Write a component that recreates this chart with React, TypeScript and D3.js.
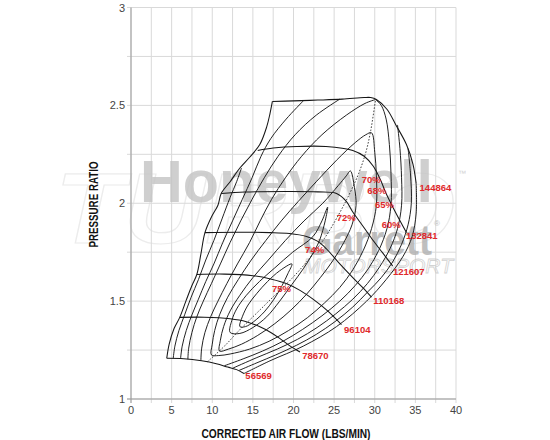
import React from 'react';
import * as d3 from 'd3';

type P = [number, number];

// ---------- axes ----------
const xTicks = [0, 5, 10, 15, 20, 25, 30, 35, 40];
const yTicks = [1, 1.5, 2, 2.5, 3];
const xGrid = [0, 2.5, 5, 7.5, 10, 12.5, 15, 17.5, 20, 22.5, 25, 27.5, 30, 32.5, 35, 37.5, 40];
const yGrid = [1, 1.25, 1.5, 1.75, 2, 2.25, 2.5, 2.75, 3];

// ---------- surge line ----------
const surgeLine: P[] = [
  [4.4, 1.208], [4.7, 1.28], [5.3, 1.36], [6.0, 1.417], [6.8, 1.505], [7.5, 1.58], [8.1, 1.636],
  [8.6, 1.74], [9.1, 1.85], [9.9, 1.93], [10.7, 1.99], [11.1, 2.05], [12.2, 2.11], [13.4, 2.18],
  [14.6, 2.235], [15.85, 2.3], [16.7, 2.39], [17.1, 2.457], [17.4, 2.52],
];

// ---------- speed lines (rpm) ----------
const speed56569: P[] = [[4.4, 1.208], [6.5, 1.206], [8.7, 1.195], [10.5, 1.18], [11.9, 1.163], [13.0, 1.15], [13.9, 1.13]];
const speed78670: P[] = [[6.0, 1.417], [9.0, 1.418], [12.2, 1.41], [14.2, 1.395], [15.8, 1.37], [17.2, 1.34], [18.3, 1.31], [19.6, 1.27], [20.8, 1.24]];
const speed96104: P[] = [[8.1, 1.636], [11.5, 1.638], [15.0, 1.63], [17.3, 1.612], [19.1, 1.59], [20.8, 1.555], [22.4, 1.51], [24.2, 1.45], [25.9, 1.38]];
const speed110168: P[] = [[9.1, 1.85], [13.0, 1.852], [17.1, 1.85], [19.5, 1.845], [21.6, 1.83], [23.0, 1.805], [24.1, 1.765], [25.7, 1.69], [27.3, 1.62], [28.5, 1.57], [29.6, 1.52]];
const speed121607: P[] = [[11.1, 2.05], [14.0, 2.057], [19.1, 2.06], [23.0, 2.058], [25.3, 2.05], [26.5, 2.01], [27.3, 1.955], [28.6, 1.88], [29.8, 1.81], [31.0, 1.745], [32.2, 1.68]];
const speed132841: P[] = [[15.6, 2.27], [17.5, 2.282], [20.4, 2.29], [24.0, 2.29], [27.3, 2.27], [28.7, 2.24], [29.8, 2.19], [30.7, 2.12], [31.4, 2.05], [32.6, 1.95], [33.9, 1.85]];
const speed144864: P[] = [[17.4, 2.52], [20.0, 2.523], [23.0, 2.527], [26.0, 2.532], [28.7, 2.54], [29.5, 2.54], [30.2, 2.53], [31.5, 2.48], [32.6, 2.4], [33.9, 2.3], [34.7, 2.2], [35.1, 2.1]];
const speedNames = ['56569', '78670', '96104', '110168', '121607', '132841', '144864'];
const speedLabelPos: P[] = [[15.7, 1.122], [22.7, 1.224], [27.85, 1.356], [31.73, 1.505], [34.19, 1.65], [35.79, 1.833], [37.47, 2.083]];

// ---------- efficiency islands ----------
const eff75: P[] = [
  [13.4, 1.37], [13.7, 1.42], [14.4, 1.48], [15.5, 1.54], [16.8, 1.6], [18.3, 1.655], [19.8, 1.69],
  [19.3, 1.64], [18.6, 1.58], [17.6, 1.51], [16.4, 1.445], [15.1, 1.395], [14.1, 1.37],
];
const eff74: P[] = [
  [12.2, 1.34], [12.4, 1.4], [13.0, 1.46], [14.2, 1.53], [15.8, 1.6], [17.7, 1.67], [19.9, 1.75], [22.4, 1.83], [23.5, 1.91], [24.2, 1.98],
  [23.9, 1.91], [23.2, 1.81], [22.4, 1.745], [21.2, 1.665], [19.8, 1.585], [18.3, 1.5], [16.7, 1.42], [15.0, 1.365], [13.4, 1.335],
];
const eff72: P[] = [
  [10.9, 1.245], [11.0, 1.3], [11.4, 1.37], [12.2, 1.45], [13.4, 1.53], [15.0, 1.62], [16.9, 1.71], [19.0, 1.81], [21.3, 1.91], [23.6, 2.0], [25.5, 2.09], [26.5, 2.14], [27.0, 2.165],
  [27.5, 2.08], [27.7, 1.99], [27.2, 1.89], [26.2, 1.8], [24.9, 1.71], [23.3, 1.62], [21.6, 1.535], [19.7, 1.455], [17.7, 1.385], [15.6, 1.325], [13.6, 1.28], [12.0, 1.255],
];
const eff70: P[] = [
  [9.9, 1.225], [10.0, 1.28], [10.3, 1.35], [10.9, 1.43], [11.9, 1.52], [13.2, 1.61], [14.8, 1.71], [16.6, 1.81], [18.5, 1.91], [20.6, 2.01], [22.8, 2.11], [25.3, 2.22], [27.6, 2.31], [28.9, 2.35], [29.6, 2.36],
  [30.0, 2.26], [30.2, 2.14], [30.2, 1.99], [29.6, 1.87], [28.6, 1.76], [27.3, 1.66], [25.7, 1.57], [23.8, 1.49], [21.7, 1.415], [19.4, 1.35], [17.0, 1.295], [14.6, 1.255], [12.2, 1.23], [10.8, 1.222],
];
const eff68Left: P[] = [[8.6, 1.196], [8.7, 1.26], [9.1, 1.34], [9.8, 1.42], [10.7, 1.5], [11.8, 1.59], [13.1, 1.69], [14.6, 1.8], [15.9, 1.91], [17.3, 2.02], [19.0, 2.13], [21.0, 2.24], [23.5, 2.35], [26.5, 2.45], [28.8, 2.51], [30.1, 2.53]];
const eff68Right: P[] = [[30.1, 2.53], [30.8, 2.5], [31.4, 2.43], [31.8, 2.3], [32.0, 2.15], [32.0, 1.99], [31.5, 1.87], [30.5, 1.76], [29.2, 1.665], [27.6, 1.58], [25.7, 1.5], [23.5, 1.425], [21.1, 1.355], [18.7, 1.295], [16.2, 1.245], [13.8, 1.205], [11.5, 1.17]];
const eff65Left: P[] = [[7.0, 1.203], [7.1, 1.26], [7.5, 1.34], [8.1, 1.42], [8.9, 1.5], [9.9, 1.59], [11.0, 1.69], [12.2, 1.8], [13.5, 1.91], [14.9, 2.02], [16.4, 2.13], [18.1, 2.24], [20.2, 2.35], [22.8, 2.45], [25.7, 2.532]];
const eff65Right: P[] = [[32.8, 2.4], [33.1, 2.28], [33.3, 2.13], [33.3, 1.99], [32.8, 1.87], [31.9, 1.77], [30.6, 1.675], [29.1, 1.59], [27.3, 1.51], [25.2, 1.435], [22.9, 1.365], [20.5, 1.305], [18.0, 1.255], [15.4, 1.21], [12.5, 1.157]];
const eff60Left: P[] = [[6.1, 1.206], [6.3, 1.27], [6.8, 1.35], [7.5, 1.43], [8.3, 1.51], [9.2, 1.6], [10.2, 1.69], [11.3, 1.8], [12.5, 1.91], [13.7, 2.02], [14.9, 2.13], [16.0, 2.24], [17.2, 2.33], [19.1, 2.43], [21.2, 2.523]];
const eff60Right: P[] = [[34.1, 2.28], [34.4, 2.15], [34.5, 2.0], [34.1, 1.89], [33.3, 1.79], [32.2, 1.7], [30.8, 1.62], [29.2, 1.55], [27.3, 1.47], [25.1, 1.395], [22.8, 1.33], [20.4, 1.275], [17.8, 1.225], [15.5, 1.185], [13.3, 1.146]];
const effOuterLeft: P[] = [[5.2, 1.208], [5.4, 1.27], [5.9, 1.35], [6.6, 1.43], [7.4, 1.52], [8.3, 1.61], [9.2, 1.71], [10.2, 1.81], [11.2, 1.92], [12.2, 2.03], [13.0, 2.11], [13.6, 2.18]];
const effOuterRight: P[] = [[13.9, 1.13], [17.1, 1.195], [21.2, 1.27], [25.3, 1.37], [29.0, 1.5], [31.4, 1.61], [33.5, 1.73], [34.6, 1.83], [35.1, 1.95], [35.1, 2.1]];
const maxEffLine: P[] = [[9.4, 1.19], [11.5, 1.27], [13.3, 1.35], [15.5, 1.44], [17.7, 1.53], [19.9, 1.62], [22.0, 1.72], [23.8, 1.82], [25.4, 1.93], [26.8, 2.04], [28.0, 2.15], [28.9, 2.26], [29.5, 2.37], [30.1, 2.53]];

const effNames = ['75%', '74%', '72%', '70%', '68%', '65%', '60%'];
const effLabelPos: P[] = [[18.51, 1.565], [22.6, 1.765], [26.5, 1.927], [29.57, 2.122], [30.26, 2.063], [31.2, 1.995], [32.03, 1.893]];

export default function App() {
  const x = d3.scaleLinear().domain([0, 40]).range([131, 456]);
  const y = d3.scaleLinear().domain([1, 3]).range([399, 7.5]);
  const openLine = d3.line<P>().x(d => x(d[0])).y(d => y(d[1])).curve(d3.curveCatmullRom.alpha(0.5));
  const closedLine = d3.line<P>().x(d => x(d[0])).y(d => y(d[1])).curve(d3.curveCatmullRomClosed.alpha(0.5));

  const speedSeries = [speed56569, speed78670, speed96104, speed110168, speed121607, speed132841, speed144864];
  const closedIslands = [eff75, eff74, eff72, eff70];
  const openContours = [eff68Left, eff68Right, eff65Left, eff65Right, eff60Left, eff60Right, effOuterLeft, effOuterRight];

  const font = '"Liberation Sans", Arial, Helvetica, sans-serif';
  const lineColor = '#161616';
  const red = '#e0292b';

  return (
    <svg width={550} height={440} style={{ position: 'absolute', left: 0, top: 0, background: '#fff' }} fontFamily={font}>
      <rect x={0} y={0} width={550} height={440} fill="#fff" />
      {/* faint background watermark */}
      <text x={55} y={243} fontSize={100} fontWeight="bold" fontStyle="italic" fill="none" stroke="#ececec" strokeWidth={1.2}
        textLength={400} lengthAdjust="spacingAndGlyphs">TURBO</text>

      {/* grid */}
      {xGrid.map(v => (
        <line key={'gx' + v} x1={x(v)} x2={x(v)} y1={y(3)} y2={y(1) + 4} stroke="#d9d9d9" strokeWidth={1} />
      ))}
      {yGrid.map(v => (
        <line key={'gy' + v} x1={x(0) - 4} x2={x(40)} y1={y(v)} y2={y(v)} stroke="#d9d9d9" strokeWidth={1} />
      ))}
      <line x1={x(0)} x2={x(0)} y1={y(3)} y2={y(1) + 4} stroke="#9a9a9a" strokeWidth={1} />
      <line x1={x(0) - 4} x2={x(40)} y1={y(1)} y2={y(1)} stroke="#9a9a9a" strokeWidth={1} />

      {/* tick labels */}
      {xTicks.map(v => (
        <text key={'tx' + v} x={x(v)} y={414} fontSize={11} fill="#444" textAnchor="middle">{v}</text>
      ))}
      {yTicks.map(v => (
        <text key={'ty' + v} x={125} y={y(v) + 4} fontSize={11} fill="#444" textAnchor="end">{v}</text>
      ))}

      {/* watermark */}
      <g opacity={0.8}>
        <text x={140} y={202} fontSize={60} fontWeight="bold" fill="#c4c4c4" textLength={293} lengthAdjust="spacingAndGlyphs">Honeywell</text>
        <text x={302} y={255} fontSize={42} fontWeight="bold" fill="#b0b0b0" textLength={130} lengthAdjust="spacingAndGlyphs">Garrett</text>
        <text x={434} y={226} fontSize={8} fill="#b0b0b0">®</text>
        <text x={303} y={273} fontSize={21} fontStyle="italic" fill="none" stroke="#c8c8c8" strokeWidth={0.8} textLength={150} lengthAdjust="spacingAndGlyphs">MOTORSPORT</text>
        <text x={458} y={176} fontSize={8} fill="#c8c8c8">™</text>
      </g>

      {/* efficiency contours */}
      <g fill="none" stroke={lineColor} strokeWidth={0.95}>
        {closedIslands.map((pts, i) => <path key={'ci' + i} d={closedLine(pts) || ''} />)}
        {openContours.map((pts, i) => <path key={'oc' + i} d={openLine(pts) || ''} />)}
        <path d={openLine(maxEffLine) || ''} strokeDasharray="1.6,1.6" strokeWidth={0.8} />
      </g>

      {/* surge and speed lines */}
      <g fill="none" stroke={lineColor} strokeWidth={1.05}>
        <path d={openLine(surgeLine) || ''} />
        {speedSeries.map((pts, i) => <path key={'sp' + i} d={openLine(pts) || ''} />)}
      </g>

      {/* labels */}
      <g fontSize={9.5} fontWeight="bold" fill={red} textAnchor="middle">
        {speedNames.map((n, i) => (
          <text key={'sl' + n} x={x(speedLabelPos[i][0])} y={y(speedLabelPos[i][1]) + 3.5}>{n}</text>
        ))}
        {effNames.map((n, i) => (
          <text key={'el' + n} x={x(effLabelPos[i][0])} y={y(effLabelPos[i][1]) + 3.5}>{n}</text>
        ))}
      </g>

      {/* axis titles */}
      <text x={286} y={438} fontSize={12.5} fontWeight="bold" fill="#111" textAnchor="middle"
        textLength={169} lengthAdjust="spacingAndGlyphs">CORRECTED AIR FLOW (LBS/MIN)</text>
      <text transform="translate(97.5,204.5) rotate(-90)" fontSize={12.5} fontWeight="bold" fill="#111" textAnchor="middle"
        textLength={86} lengthAdjust="spacingAndGlyphs">PRESSURE RATIO</text>
    </svg>
  );
}
